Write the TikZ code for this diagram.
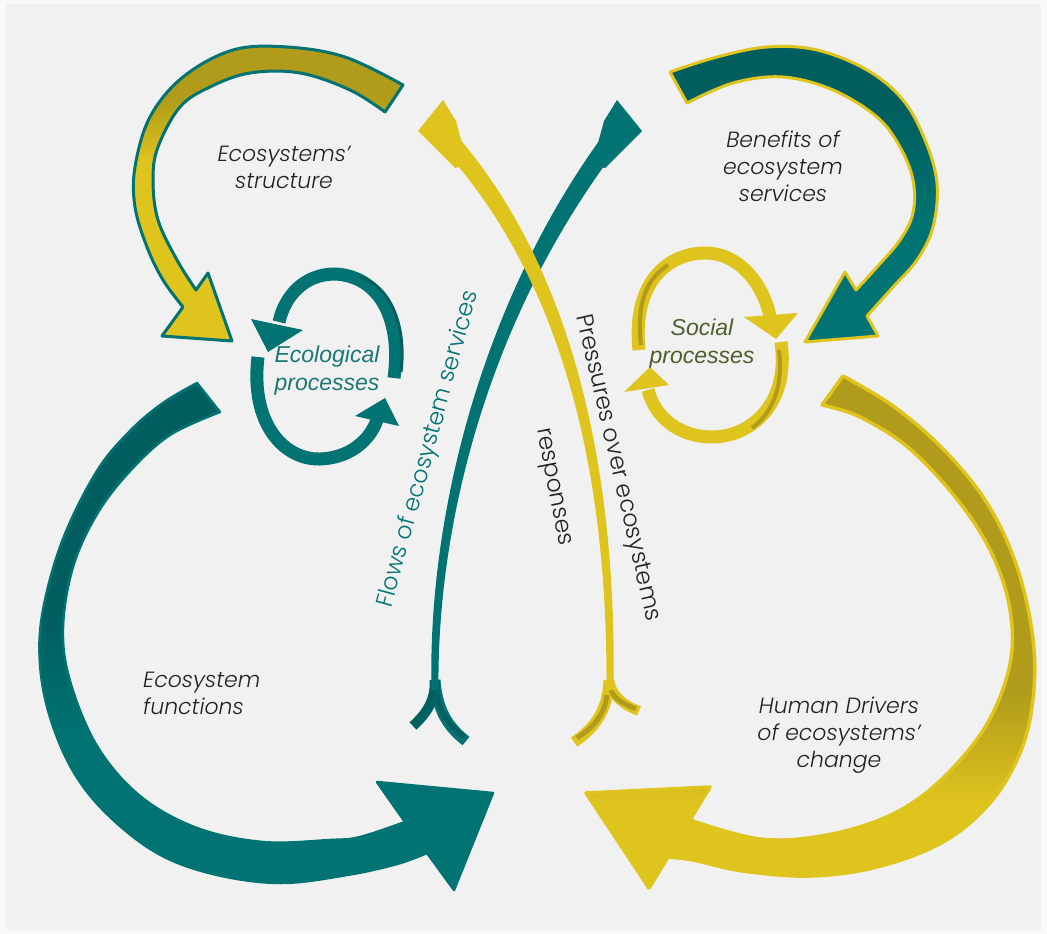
\documentclass[tikz,border=0pt]{standalone}
\usepackage{fontspec}
\IfFontExistsTF{Poppins Light Italic}{%
  \newfontfamily\avfont{Poppins Light}[ItalicFont={Poppins Light Italic}]%
}{%
  \newfontfamily\avfont{Lato}%
}
\newfontfamily\arfont{Liberation Sans}
\definecolor{bgc}{HTML}{F1F1F1}
\definecolor{outc}{HTML}{F9F9F9}
\definecolor{tealc}{HTML}{007372}
\definecolor{dteal}{HTML}{005E5E}
\definecolor{yelc}{HTML}{E0C41E}
\definecolor{olc}{HTML}{B09C1A}
\definecolor{txtc}{HTML}{222222}
\definecolor{socc}{HTML}{4D5F2C}
\definecolor{ecoc}{HTML}{1C7875}
\pgfdeclareverticalshading{shA}{100bp}{color(0bp)=(yelc); color(55bp)=(yelc); color(66bp)=(olc); color(100bp)=(olc)}
\pgfdeclareverticalshading{shB}{100bp}{color(0bp)=(tealc); color(45bp)=(tealc); color(65bp)=(dteal); color(100bp)=(dteal)}
\pgfdeclareverticalshading{shC}{100bp}{color(0bp)=(tealc); color(40bp)=(tealc); color(52bp)=(dteal); color(100bp)=(dteal)}
\pgfdeclareverticalshading{shD}{100bp}{color(0bp)=(yelc); color(33bp)=(yelc); color(44bp)=(olc); color(100bp)=(olc)}
\begin{document}
\begin{tikzpicture}[x=1pt,y=-1pt,
  bigA/.style={shade, shading=shA, draw=tealc, line width=3pt, line join=round},
  bigB/.style={shade, shading=shB, draw=yelc, line width=3pt, line join=round},
  bigC/.style={shade, shading=shC, draw=tealc, line width=2.5pt, line join=round},
  bigD/.style={shade, shading=shD, draw=yelc, line width=3.5pt, line join=round},
  cyct/.style={draw=tealc, line width=13pt},
  cycy/.style={draw=yelc, line width=13pt},
  lbl/.style={font=\avfont\itshape\fontsize{22}{27}\selectfont, text=txtc, align=center, inner sep=0pt},
  plbl/.style={font=\arfont\itshape\fontsize{23}{28}\selectfont, align=center, inner sep=0pt},
  rlbl/.style={font=\avfont\fontsize{23.5}{28}\selectfont, inner sep=0pt}]
\fill[outc] (0,0) rectangle (1047,934);
\fill[bgc] (6,4) rectangle (1041,930);
\useasboundingbox (0,0) rectangle (1047,934);

% Arrow A: ecosystems' structure
\path[bigA] plot[smooth, tension=0.6] coordinates {(403,85) (345,57) (287,47) (233,50) (183,77) (150,117) (135,167) (135,207) (147,247) (163,280) (183,307)}
  -- (162,336) -- (232,341) -- (208,273)
  -- plot[smooth, tension=0.6] coordinates {(196,290) (177,260) (158,220) (153,180) (158,147) (180,107) (210,87) (250,73) (300,73) (350,90) (385,112)} -- cycle;

% Arrow B: benefits
\path[bigB] plot[smooth, tension=0.6] coordinates {(670,72) (717,57) (767,47) (817,50) (867,70) (903,100) (925,140) (937,183) (933,227) (917,260) (893,287) (867,316)}
  -- (878,336) -- (805,342) -- (845,272)
  -- plot[smooth, tension=0.6] coordinates {(856,290) (877,267) (900,240) (913,213) (913,180) (900,147) (877,117) (833,90) (783,77) (733,83) (687,103)} -- cycle;

% Arrow C: ecosystem functions
\path[bigC] plot[smooth, tension=0.6] coordinates {(197,383) (163,403) (130,431) (97,471) (63,539) (43,610) (40,664) (50,717) (73,771) (107,814) (157,853) (213,874) (280,883) (347,875) (397,864) (427,853)}
  -- (454,890) -- (493,793) -- (377,782)
  -- plot[smooth, tension=0.6] coordinates {(405,822) (360,837) (330,840) (263,842) (197,828) (140,796) (97,746) (70,681) (63,628) (73,567) (97,514) (130,471) (170,435) (220,412)} -- cycle;

% Arrow D: human drivers
\path[bigD] plot[smooth, tension=0.6] coordinates {(843,376) (893,406) (943,449) (987,503) (1017,567) (1033,639) (1033,699) (1020,753) (990,803) (943,842) (877,867) (810,876) (743,871) (693,860) (668,857)}
  -- (649,888) -- (586,793) -- (710,787)
  -- plot[smooth, tension=0.6] coordinates {(690,820) (760,839) (827,835) (893,814) (943,778) (987,724) (1010,664) (1010,610) (993,556) (960,503) (910,449) (860,417) (822,405)} -- cycle;

% Ecological processes cycle
\draw[cyct] (394,378) .. controls (402,320) and (380,276) .. (335,274) .. controls (305,274) and (285,295) .. (279,322);
\draw[dteal, line width=3pt] (401,372) .. controls (407,322) and (388,285) .. (360,277);
\fill[tealc] (251,319) -- (303,330) -- (268,352) -- cycle;
\draw[cyct] (258,357) .. controls (250,425) and (285,460) .. (320,459) .. controls (350,458) and (370,440) .. (377,420);
\fill[tealc] (355,416) -- (385,398) -- (399,426) -- cycle;

% Social processes cycle
\draw[cycy] (639,350) .. controls (632,280) and (670,253) .. (705,253) .. controls (740,253) and (763,285) .. (770,316);
\draw[olc, line width=4pt] (641,345) .. controls (636,300) and (648,278) .. (668,265);
\fill[yelc] (744,317) -- (798,313) -- (776,339) -- cycle;
\draw[cycy] (781,342) .. controls (790,405) and (750,437) .. (712,437) .. controls (680,437) and (655,418) .. (648,390);
\draw[olc, line width=4pt] (779,350) .. controls (784,390) and (770,415) .. (752,428);
\fill[yelc] (624,392) -- (650,367) -- (669,385) -- cycle;

% Flows (teal) central arrow
\draw[tealc, line width=11pt] (435,680) .. controls (437,710) and (448,727) .. (466,741);
\draw[dteal, line width=5pt] (436,690) .. controls (439,712) and (449,726) .. (464,737);
\draw[dteal!85!tealc, line width=10pt] (435,680) .. controls (435,700) and (428,712) .. (413,726);
\fill[tealc] (431.5,690) .. controls (427.5,520) and (479.5,305.5) .. (602.4,136.3)
  -- (617.6,147.7) .. controls (490.5,314.5) and (436.5,520) .. (438.5,690) -- cycle;
\fill[tealc] (598,143) -- (604,121) -- (617,100) -- (642,131) -- (605,168) -- (592,165) -- cycle;

% Pressures (yellow) central arrow
\draw[yelc, line width=11pt] (609,680) .. controls (608,710) and (595,728) .. (574,742);
\draw[olc, line width=5pt] (607,695) .. controls (605,714) and (594,727) .. (577,738);
\draw[yelc, line width=10pt] (609,680) .. controls (612,697) and (624,705) .. (639,711);
\draw[olc, line width=5pt] (611,690) .. controls (614,699) and (624,704) .. (636,709);
\fill[yelc] (606.5,690) .. controls (607.5,500) and (574.8,294.6) .. (442.9,148.3)
  -- (457.1,135.7) .. controls (585.2,285.4) and (616.5,500) .. (613.5,690) -- cycle;
\fill[yelc] (462,143) -- (456,121) -- (443,100) -- (418,131) -- (455,168) -- (468,165) -- cycle;

% Labels
\node[lbl] (struct) at (284,167) {Ecosystems’\\structure};
\node[lbl] (benef) at (783,166) {Benefits of\\ecosystem\\services};
\node[plbl, text=ecoc] (eco) at (327,371) {Ecological\\processes};
\node[plbl, text=socc] (soc) at (702,344) {Social\\processes};
\node[lbl, align=left, anchor=west] (func) at (143,693) {Ecosystem\\functions};
\node[lbl] (human) at (839,735) {Human Drivers\\of ecosystems’\\change};
\node[rlbl, text=tealc, rotate=74.7] (flows) at (429,449) {Flows of ecosystem services};
\node[rlbl, text=txtc, rotate=-77] (press) at (617,468) {Pressures over ecosystems};
\node[rlbl, text=txtc, rotate=-79] (resp) at (552,487) {responses};
\end{tikzpicture}
\end{document}
